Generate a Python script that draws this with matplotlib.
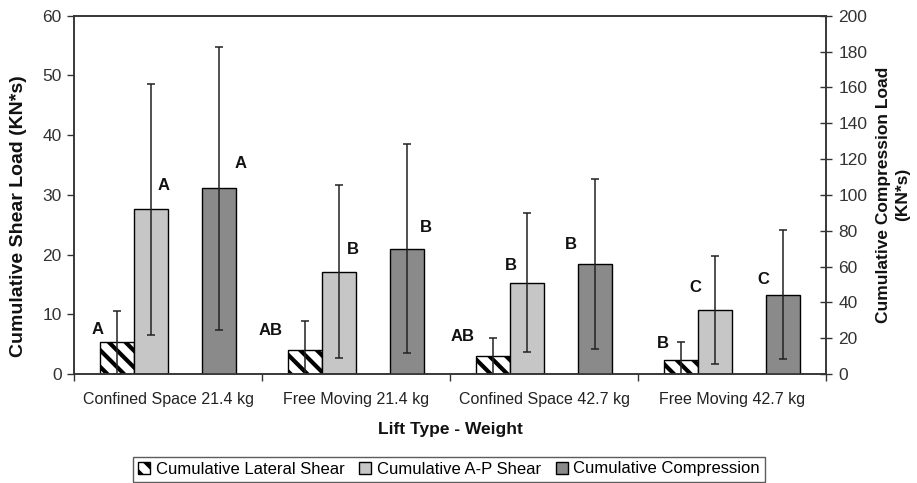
import numpy as np
import matplotlib
matplotlib.use("Agg")
import matplotlib.pyplot as plt

plt.rcParams['font.family'] = ['Liberation Sans', 'DejaVu Sans']
plt.rcParams['hatch.linewidth'] = 3.0

# data
lift_types = ["Confined Space 21.4 kg", "Free Moving 21.4 kg",
              "Confined Space 42.7 kg", "Free Moving 42.7 kg"]
lateral_mean = [5.3, 4.0, 3.0, 2.3]
lateral_sd = [5.3, 4.8, 3.1, 3.1]
ap_mean = [27.6, 17.1, 15.3, 10.7]
ap_sd = [21.0, 14.5, 11.6, 9.0]
comp_mean = [103.6, 70.0, 61.4, 44.1]
comp_sd = [79.0, 58.5, 47.2, 36.0]
lateral_grp = ["A", "AB", "AB", "B"]
ap_grp = ["A", "B", "B", "C"]
comp_grp = ["A", "B", "B", "C"]

# label nudges (points) relative to top of each bar
lat_off = [(-14, 9), (-25, 14), (-22, 14), (-13, 12)]
ap_off = [(9, 17), (10, 16), (-12, 12), (-14, 16)]
comp_off = [(16, 18), (14, 15), (-17, 14), (-14, 11)]

fig = plt.figure(figsize=(9.17, 4.83), dpi=100)
ax = fig.add_axes([0.0807, 0.2257, 0.8201, 0.7418])
ax2 = ax.twinx()

x = np.arange(len(lift_types))
w = 0.18
err_kw = dict(ecolor='#222222', elinewidth=1.1, capsize=3.2, capthick=1.1)

b1 = ax.bar(x - 1.5 * w, lateral_mean, w, yerr=lateral_sd, color='white',
            edgecolor='black', linewidth=1, hatch='\\\\', error_kw=err_kw,
            label='Cumulative Lateral Shear')
b2 = ax.bar(x - 0.5 * w, ap_mean, w, yerr=ap_sd, color='#c6c6c6',
            edgecolor='black', linewidth=1, error_kw=err_kw,
            label='Cumulative A-P Shear')
b3 = ax2.bar(x + 1.5 * w, comp_mean, w, yerr=comp_sd, color='#8a8a8a',
             edgecolor='black', linewidth=1, error_kw=err_kw,
             label='Cumulative Compression')

lab_kw = dict(textcoords='offset points', ha='center', va='center',
              fontsize=12, fontweight='bold', color='#111111')
for i in range(len(x)):
    ax.annotate(lateral_grp[i], (x[i] - 1.5 * w, lateral_mean[i]), xytext=lat_off[i], **lab_kw)
    ax.annotate(ap_grp[i], (x[i] - 0.5 * w, ap_mean[i]), xytext=ap_off[i], **lab_kw)
    ax2.annotate(comp_grp[i], (x[i] + 1.5 * w, comp_mean[i]), xytext=comp_off[i], **lab_kw)

ax.set_xlim(-0.5, 3.5)
ax.set_ylim(0, 60)
ax2.set_ylim(0, 200)
ax.set_yticks(np.arange(0, 61, 10))
ax2.set_yticks(np.arange(0, 201, 20))

ax.set_xticks(x)
ax.set_xticklabels(lift_types, fontsize=11.5, color='#222222')
ax.set_xticks(np.arange(-0.5, 3.6, 1), minor=True)
ax.tick_params(axis='x', which='major', length=0, pad=13)
ax.tick_params(axis='x', which='minor', length=5, direction='out', width=1, color='#333333')
ax.tick_params(axis='y', labelsize=12.5, length=5, direction='out', width=1,
               color='#333333', labelcolor='#333333', pad=4)
ax2.tick_params(axis='y', labelsize=12.5, length=8, direction='inout', width=1,
                color='#333333', labelcolor='#333333', pad=5)

for a in (ax, ax2):
    for s in a.spines.values():
        s.set_color('#333333')
        s.set_linewidth(1.1)

ax.set_ylabel("Cumulative Shear Load (KN*s)", fontsize=14, fontweight='bold', color='#111111')
ax.yaxis.set_label_coords(-0.0625, 0.44)
ax2.set_ylabel("Cumulative Compression Load\n(KN*s)", fontsize=12.5, fontweight='bold',
               rotation=90, linespacing=1.4, color='#111111')
ax2.yaxis.set_label_coords(1.066, 0.5)
ax.set_xlabel("Lift Type - Weight", fontsize=12.5, fontweight='bold', color='#111111')
ax.xaxis.set_label_coords(0.5, -0.134)

fig.legend(handles=[b1, b2, b3], loc='center', bbox_to_anchor=(449 / 917, 1 - 469 / 483), ncol=3,
           fontsize=12, frameon=True, fancybox=False, edgecolor='#333333',
           handlelength=0.7, handleheight=0.7, handletextpad=0.35, columnspacing=0.9,
           borderpad=0.3, borderaxespad=0)

fig.savefig("out.png", dpi=100)
